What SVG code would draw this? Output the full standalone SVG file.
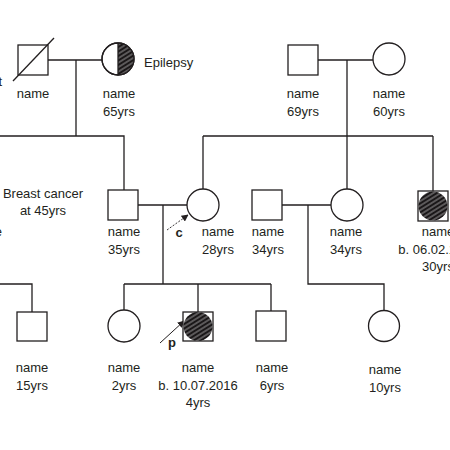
<svg xmlns="http://www.w3.org/2000/svg" width="450" height="450" viewBox="0 0 450 450">
<defs>
<style>
.ln{stroke:#231f20;stroke-width:1.3;fill:none}
.sym{stroke:#231f20;stroke-width:1.3;fill:#fff}
.t{font-family:"Liberation Sans",Arial,sans-serif;font-size:13px;fill:#231f20;text-anchor:middle}
.b{font-family:"Liberation Sans",Arial,sans-serif;font-size:13px;font-weight:bold;fill:#231f20;text-anchor:middle}
</style>
<pattern id="hatch" patternUnits="userSpaceOnUse" width="3.8" height="3.8" patternTransform="rotate(-32)">
<rect width="3.8" height="3.8" fill="#1a1718"/>
<line x1="0" y1="1.9" x2="3.8" y2="1.9" stroke="#fff" stroke-width="0.55"/>
</pattern>
<marker id="ah" viewBox="0 0 10 10" refX="9" refY="5" markerWidth="7" markerHeight="7" orient="auto" markerUnits="userSpaceOnUse">
<path d="M0,0 L10,5 L0,10 z" fill="#231f20"/>
</marker>
<clipPath id="rh"><rect x="118" y="40" width="20" height="40"/></clipPath>
</defs>
<rect width="450" height="450" fill="#fff"/>
<g id="connectors">
<path class="ln" d="M48,60 H103 M76,60 V136 M0,136 H124 V190 M318,60 H373 M347,60 V136 M203,136 H433 M203,136 V189 M347,136 V189 M433,136 V191 M138,205 H187 M163,205 V284 M124,284 H271 M124,284 V310 M198,284 V312 M271,284 V311 M282,205 H331 M308,205 V284 H384 V310 M0,284 H32 V312"/>
<line x1="167" y1="230" x2="188" y2="215" stroke="#231f20" stroke-width="0.9" stroke-dasharray="2,1.5" marker-end="url(#ah)"/>
<line x1="160" y1="343" x2="184" y2="321" stroke="#231f20" stroke-width="1" marker-end="url(#ah)"/>
</g>
<g id="gf1">
<rect class="sym" x="18" y="45" width="30" height="30"/>
<line class="ln" x1="13" y1="81" x2="54" y2="38"/>
<text class="t" x="33" y="98">name</text>
</g>
<text class="t" x="2" y="86" style="text-anchor:end">t</text>
<g id="gm1">
<circle class="sym" cx="118" cy="59" r="16"/>
<circle cx="118" cy="59" r="16" fill="url(#hatch)" clip-path="url(#rh)"/>
<circle class="ln" cx="118" cy="59" r="16"/>
<line class="ln" x1="118" y1="43" x2="118" y2="75"/>
<text class="t" x="119" y="98">name</text>
<text class="t" x="119" y="115.5">65yrs</text>
<text class="t" x="144" y="67" style="text-anchor:start">Epilepsy</text>
</g>
<g id="gf2">
<rect class="sym" x="288" y="45" width="30" height="30"/>
<text class="t" x="303" y="98">name</text>
<text class="t" x="303" y="115.5">69yrs</text>
</g>
<g id="gm2">
<circle class="sym" cx="389" cy="59" r="16"/>
<text class="t" x="389" y="98">name</text>
<text class="t" x="389" y="115.5">60yrs</text>
</g>
<g id="offleft">
<text class="t" x="43" y="198">Breast cancer</text>
<text class="t" x="43" y="215">at 45yrs</text>
<text class="t" x="2" y="236" style="text-anchor:end">e</text>
</g>
<g id="father">
<rect class="sym" x="108" y="190" width="30" height="30"/>
<text class="t" x="124" y="236">name</text>
<text class="t" x="124" y="253.5">35yrs</text>
</g>
<g id="mother">
<circle class="sym" cx="203" cy="205" r="16"/>
<text class="t" x="218" y="236">name</text>
<text class="t" x="218" y="253.5">28yrs</text>
<text class="b" x="179" y="237">c</text>
</g>
<g id="uncle">
<rect class="sym" x="252" y="190" width="30" height="30"/>
<text class="t" x="268" y="236">name</text>
<text class="t" x="268" y="253.5">34yrs</text>
</g>
<g id="aunt">
<circle class="sym" cx="347" cy="205" r="16"/>
<text class="t" x="346" y="236">name</text>
<text class="t" x="346" y="253.5">34yrs</text>
</g>
<g id="brother">
<rect class="sym" x="418" y="191" width="30" height="30"/>
<circle cx="433" cy="206" r="14.5" fill="url(#hatch)"/>
<text class="t" x="438" y="236">name</text>
<text class="t" x="438" y="253.5">b. 06.02.1990</text>
<text class="t" x="438" y="271">30yrs</text>
</g>
<g id="c15">
<rect class="sym" x="17" y="312" width="30" height="29"/>
<text class="t" x="32" y="372">name</text>
<text class="t" x="32" y="389.5">15yrs</text>
</g>
<g id="c2">
<circle class="sym" cx="124" cy="326" r="16"/>
<text class="t" x="124" y="372">name</text>
<text class="t" x="124" y="389.5">2yrs</text>
</g>
<g id="proband">
<rect class="sym" x="183" y="312" width="30" height="29"/>
<circle cx="198" cy="326.5" r="14.5" fill="url(#hatch)"/>
<text class="t" x="198" y="372">name</text>
<text class="t" x="198" y="389.5">b. 10.07.2016</text>
<text class="t" x="198" y="407">4yrs</text>
<text class="b" x="172" y="347">p</text>
</g>
<g id="c6">
<rect class="sym" x="256" y="311" width="30" height="30"/>
<text class="t" x="272" y="372">name</text>
<text class="t" x="272" y="389.5">6yrs</text>
</g>
<g id="c10">
<circle class="sym" cx="384" cy="326" r="15.5"/>
<text class="t" x="385" y="374">name</text>
<text class="t" x="385" y="391.5">10yrs</text>
</g>
</svg>
